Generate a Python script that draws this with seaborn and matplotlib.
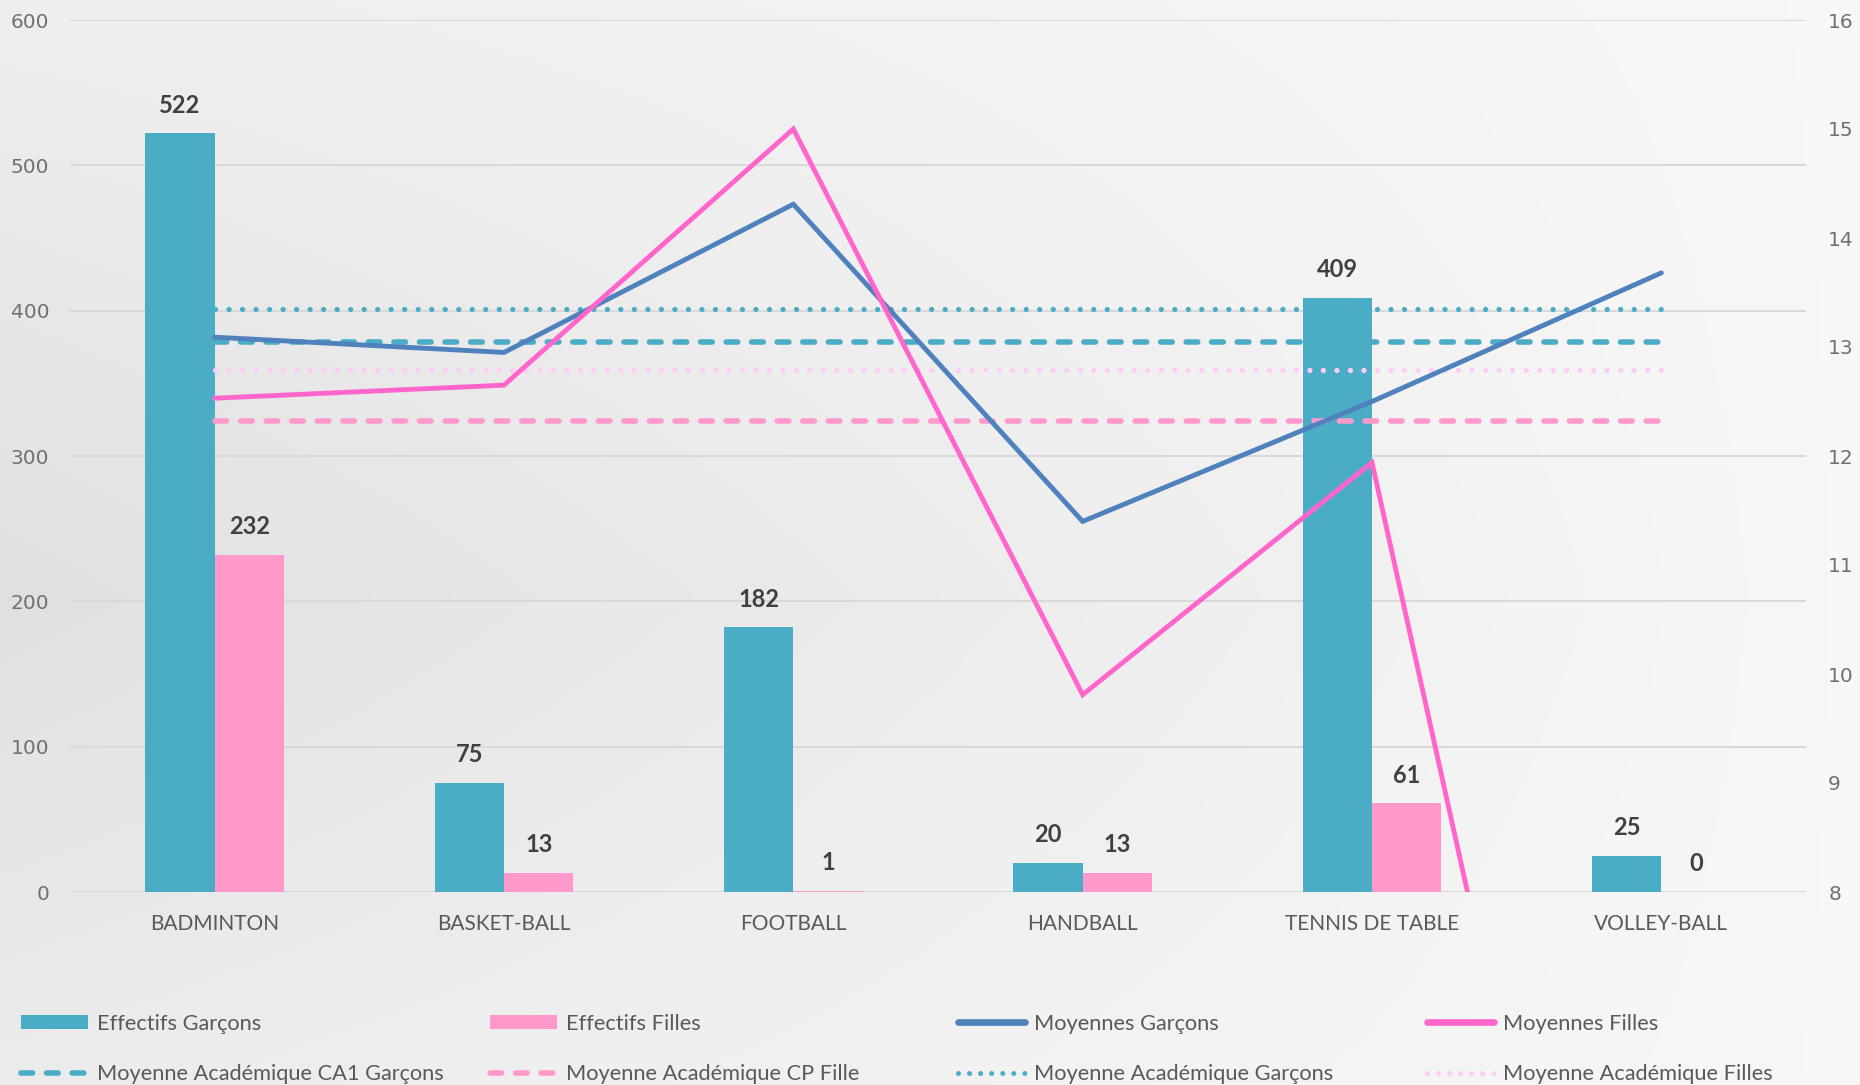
import numpy as np
import pandas as pd
import matplotlib
matplotlib.use("Agg")
import matplotlib.pyplot as plt
from matplotlib.patches import Patch
from matplotlib.lines import Line2D
import seaborn as sns

# ---- data ----
sports = ["BADMINTON", "BASKET-BALL", "FOOTBALL", "HANDBALL", "TENNIS DE TABLE", "VOLLEY-BALL"]
effectifs_garcons = [522, 75, 182, 20, 409, 25]
effectifs_filles = [232, 13, 1, 13, 61, 0]
moyennes_garcons = [13.09, 12.95, 14.31, 11.40, 12.50, 13.68]
moyennes_filles = [12.53, 12.65, 15.00, 9.81, 11.94, 0.00]
moy_acad_ca1_garcons = [13.05, 13.05, 13.05, 13.05, 13.05, 13.05]
moy_acad_cp_fille = [12.32, 12.32, 12.32, 12.32, 12.32, 12.32]
moy_acad_garcons = [13.35, 13.35, 13.35, 13.35, 13.35, 13.35]
moy_acad_filles = [12.79, 12.79, 12.79, 12.79, 12.79, 12.79]
left_ticks = [0, 100, 200, 300, 400, 500, 600]
right_ticks = [8, 9, 10, 11, 12, 13, 14, 15, 16]

# ---- colours ----
TEAL = "#4BACC6"
PINK_BAR = "#FF99CC"
BLUE = "#4F81BD"
PINK_LINE = "#FF66CC"
LIGHT_PINK = "#FFCCF7"
GRID = "#D9D9D9"
TEXT = "#595959"
LABEL = "#404040"

DOT = (0.01, 2.55)
DASH = (2.1, 2.5)

sns.set_theme(style="white")
plt.rcParams["font.family"] = ["Lato", "DejaVu Sans"]

fig = plt.figure(figsize=(18.6, 10.85), dpi=100)

# soft grey background gradient, lighter towards the right
bg = fig.add_axes([0, 0, 1, 1], zorder=-5)
gx, gy = np.meshgrid(np.linspace(0, 1, 400), np.linspace(1, 0, 240))
light = 0.880 + 0.090 * gx + 0.10 * (1 - gx) * np.abs(gy - 0.45)
light = np.clip(light, 0, 1)
bg.imshow(np.dstack([light, light, light]), aspect="auto", extent=[0, 1, 0, 1])
bg.set_axis_off()

ax = fig.add_axes([70 / 1860, 1 - 892 / 1085, 1736 / 1860, 872 / 1085])
ax.patch.set_alpha(0)

df = pd.DataFrame({
    "Sport": sports * 2,
    "Effectif": effectifs_garcons + effectifs_filles,
    "Série": ["Effectifs Garçons"] * len(sports) + ["Effectifs Filles"] * len(sports),
})
sns.barplot(data=df, x="Sport", y="Effectif", hue="Série", order=sports,
            hue_order=["Effectifs Garçons", "Effectifs Filles"],
            palette=[TEAL, PINK_BAR], saturation=1, width=0.48, gap=0,
            legend=False, ax=ax, errorbar=None, linewidth=0, edgecolor="none")

for cont in ax.containers:
    ax.bar_label(cont, fmt="%d", padding=12, fontsize=17, fontweight="bold", color=LABEL)

ax.set_ylim(0, 600)
ax.set_xlim(-0.5, len(sports) - 0.5)
ax.set_yticks(left_ticks)
ax.set_yticklabels([str(t) for t in left_ticks], family="DejaVu Sans", fontsize=14.5, color="#707070")
ax.set_xticks(range(len(sports)))
ax.set_xticklabels(sports, fontsize=15, color=TEXT)
ax.tick_params(axis="y", length=0, pad=15)
ax.tick_params(axis="x", length=0, pad=16)
ax.set_xlabel("")
ax.set_ylabel("")
ax.grid(axis="y", color=GRID, lw=1.4)
ax.grid(axis="x", visible=False)
ax.set_axisbelow(True)
for s in ax.spines.values():
    s.set_visible(False)

# ---- averages on the secondary axis ----
ax2 = ax.twinx()
ax2.patch.set_alpha(0)
pos = np.arange(len(sports))


def draw(values, color, lw, dashes=None):
    sns.lineplot(x=pos, y=values, color=color, lw=lw, ax=ax2, sort=False,
                 estimator=None, legend=False)
    line = ax2.lines[-1]
    if dashes is not None:
        line.set_dashes(dashes)
        line.set_dash_capstyle("round")
    else:
        line.set_solid_capstyle("round")
        line.set_solid_joinstyle("miter")
    return line


draw(moy_acad_garcons, TEAL, 3.8, DOT)
draw(moy_acad_ca1_garcons, TEAL, 4.0, DASH)
draw(moy_acad_filles, LIGHT_PINK, 3.8, DOT)
draw(moy_acad_cp_fille, PINK_BAR, 4.0, DASH)
draw(moyennes_garcons, BLUE, 3.5)
draw(moyennes_filles, PINK_LINE, 3.5)

ax2.set_ylim(8, 16)
ax2.set_yticks(right_ticks)
ax2.set_yticklabels([str(t) for t in right_ticks], family="DejaVu Sans", fontsize=14.5, color="#707070")
ax2.tick_params(axis="y", length=0, pad=16)
ax2.set_ylabel("")
ax2.grid(False)
for s in ax2.spines.values():
    s.set_visible(False)

# ---- legend: four columns, two rows ----
def dotted(color):
    return Line2D([], [], color=color, lw=3.6, dashes=(0.01, 2.2), dash_capstyle="round")


def dashed(color):
    return Line2D([], [], color=color, lw=4.0, dashes=DASH, dash_capstyle="round")


columns = [
    ([Patch(color=TEAL, lw=0), dashed(TEAL)], ["Effectifs Garçons", "Moyenne Académique CA1 Garçons"]),
    ([Patch(color=PINK_BAR, lw=0), dashed(PINK_BAR)], ["Effectifs Filles", "Moyenne Académique CP Fille"]),
    ([Line2D([], [], color=BLUE, lw=4.8, solid_capstyle="round"), dotted(TEAL)],
     ["Moyennes Garçons", "Moyenne Académique Garçons"]),
    ([Line2D([], [], color=PINK_LINE, lw=4.8, solid_capstyle="round"), dotted(LIGHT_PINK)],
     ["Moyennes Filles", "Moyenne Académique Filles"]),
]
col_x = [21 / 1860, 490 / 1860, 958 / 1860, 1427 / 1860]
for (handles, labels), x in zip(columns, col_x):
    fig.legend(handles, labels, loc="center left", bbox_to_anchor=(x, 1 - 1049 / 1085),
               frameon=False, fontsize=15.7, labelcolor=TEXT, handlelength=3.05,
               handleheight=0.62, handletextpad=0.43, borderpad=0, borderaxespad=0,
               labelspacing=1.42)

fig.savefig("out.png", dpi=100)
